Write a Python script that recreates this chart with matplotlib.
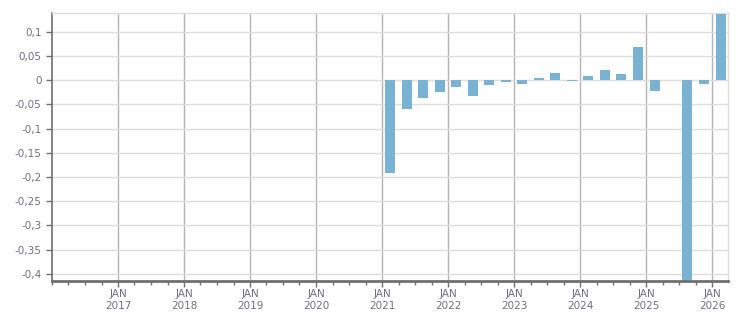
import datetime as dt
import numpy as np
import matplotlib
matplotlib.use('Agg')
import matplotlib.pyplot as plt
import matplotlib.dates as mdates
from matplotlib.ticker import FixedLocator, FuncFormatter

# --- данные: квартальные значения (середина квартала) ---
quarters = ['2021Q1', '2021Q2', '2021Q3', '2021Q4',
            '2022Q1', '2022Q2', '2022Q3', '2022Q4',
            '2023Q1', '2023Q2', '2023Q3', '2023Q4',
            '2024Q1', '2024Q2', '2024Q3', '2024Q4',
            '2025Q1', '2025Q2', '2025Q3', '2025Q4',
            '2026Q1']
values = [-0.191, -0.059, -0.036, -0.024,
          -0.014, -0.032, -0.0096, -0.0034,
          -0.0076, 0.0048, 0.015, -0.0014,
          0.009, 0.021, 0.013, 0.069,
          -0.022, 0.0, -0.45, -0.0076,
          0.137]
y_ticks = [0.1, 0.05, 0, -0.05, -0.1, -0.15, -0.2, -0.25, -0.3, -0.35, -0.4]
years = list(range(2017, 2027))

BAR_COLOR = '#7ab2d4'
TEXT_COLOR = '#707082'
AXIS_COLOR = '#707070'


def quarter_mid(q):
    y, n = int(q[:4]), int(q[-1])
    start = dt.date(y, 3 * (n - 1) + 1, 1)
    return start + dt.timedelta(days=45)


def fmt_num(v, pos=None):
    if abs(v) < 1e-9:
        return '0'
    s = ('%.2f' % v).rstrip('0').rstrip('.')
    return s.replace('.', ',')


x = [quarter_mid(q) for q in quarters]

fig = plt.figure(figsize=(7.51, 3.13), dpi=100)
ax = fig.add_axes([0.0692, 0.1022, 0.9002, 0.8553])

ax.bar(x, values, width=55, color=BAR_COLOR, zorder=3)

ax.set_xlim(mdates.date2num(dt.date(2016, 1, 1)), mdates.date2num(dt.date(2026, 3, 28)))
ax.set_ylim(-0.4147, 0.1384)

# ось Y
ax.yaxis.set_major_locator(FixedLocator(y_ticks))
ax.yaxis.set_major_formatter(FuncFormatter(fmt_num))
ax.grid(axis='y', color='#dddddd', linewidth=1, zorder=0)

# ось X: годы + кварталы
ax.xaxis.set_major_locator(FixedLocator([mdates.date2num(dt.date(y, 1, 1)) for y in years]))
ax.xaxis.set_major_formatter(FuncFormatter(lambda v, p: 'JAN\n' + str(mdates.num2date(v).year)))
minor = [mdates.date2num(dt.date(y, m, 1)) for y in range(2016, 2027) for m in (1, 4, 7, 10)]
ax.xaxis.set_minor_locator(FixedLocator(minor))
ax.grid(axis='x', which='major', color='#b4b4b4', linewidth=1, zorder=1)

ax.tick_params(axis='both', which='major', labelsize=7.5, labelcolor=TEXT_COLOR,
               color=AXIS_COLOR, length=4, width=1)
ax.tick_params(axis='x', which='minor', color=AXIS_COLOR, length=3, width=1)
ax.tick_params(axis='x', which='major', pad=2)
for lbl in ax.get_xticklabels():
    lbl.set_linespacing(1.15)

for side in ('top', 'right'):
    ax.spines[side].set_color('#dddddd')
    ax.spines[side].set_linewidth(1)
ax.spines['left'].set_color(AXIS_COLOR)
ax.spines['left'].set_linewidth(1.2)
ax.spines['bottom'].set_color(AXIS_COLOR)
ax.spines['bottom'].set_linewidth(2)
ax.spines['bottom'].set_zorder(5)

fig.savefig('out.png', dpi=100)
